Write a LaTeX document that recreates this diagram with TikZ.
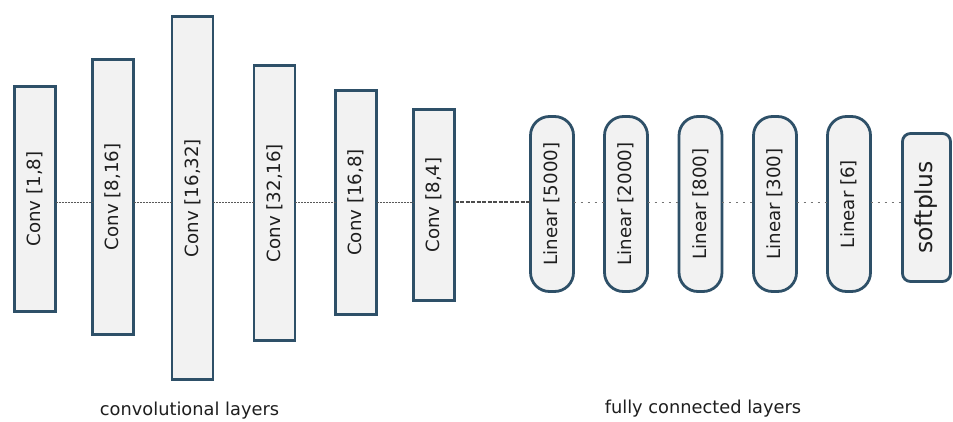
\documentclass[tikz,border=0pt]{standalone}
\usepackage{fontspec}
\setmainfont{DejaVu Sans}
\definecolor{boxline}{HTML}{2E5068}
\definecolor{boxfill}{HTML}{F2F2F2}
\definecolor{txt}{HTML}{1E1E1E}
\begin{document}
\begin{tikzpicture}[x=1pt,y=-1pt,
  layer/.style={draw=boxline, fill=boxfill, line width=2.8pt, inner sep=0pt, outer sep=0pt,
     text=txt, font=\fontsize{18.2}{20}\selectfont},
  convbox/.style={layer, rectangle, minimum width=41pt},
  linbox/.style={layer, rectangle, rounded corners=19pt, minimum width=43pt, minimum height=175pt},
  softbox/.style={layer, rectangle, rounded corners=8pt, minimum width=48pt, minimum height=148pt, font=\fontsize{23.5}{26}\selectfont},
  convconn/.style={draw=black!65, line width=0.8pt, dash pattern=on 2pt off 1pt},
  midconn/.style={draw=black!70, line width=1.2pt, dash pattern=on 4pt off 1.5pt},
  linconn/.style={draw=black!55, line width=1pt, dash pattern=on 2pt off 5pt},
  grouplabel/.style={text=txt, font=\fontsize{17.8}{20}\selectfont}
]
\useasboundingbox (0,0) rectangle (953,421);
\coordinate (mid) at (0,202);

\node[convbox, minimum height=225pt] (c1) at (35,199) {\rotatebox{90}{Conv [1,8]}};
\node[convbox, minimum height=275pt] (c2) at (113,197) {\rotatebox{90}{Conv [8,16]}};
\node[convbox, minimum height=363pt] (c3) at (192.5,198) {\rotatebox{90}{Conv [16,32]}};
\node[convbox, minimum height=275pt] (c4) at (274.5,203) {\rotatebox{90}{Conv [32,16]}};
\node[convbox, minimum height=224pt] (c5) at (356,202.5) {\rotatebox{90}{Conv [16,8]}};
\node[convbox, minimum height=191pt] (c6) at (434,205) {\rotatebox{90}{Conv [8,4]}};

\node[linbox] (l1) at (552,204) {\rotatebox{90}{Linear [5000]}};
\node[linbox] (l2) at (626,204) {\rotatebox{90}{Linear [2000]}};
\node[linbox] (l3) at (700.5,204) {\rotatebox{90}{Linear [800]}};
\node[linbox] (l4) at (775,204) {\rotatebox{90}{Linear [300]}};
\node[linbox] (l5) at (849,204) {\rotatebox{90}{Linear [6]}};
\node[softbox] (sp) at (926.5,207.5) {\rotatebox{90}{softplus}};

\draw[convconn] (c1.east |- mid) -- (c2.west |- mid);
\draw[convconn] (c2.east |- mid) -- (c3.west |- mid);
\draw[convconn] (c3.east |- mid) -- (c4.west |- mid);
\draw[convconn] (c4.east |- mid) -- (c5.west |- mid);
\draw[convconn] (c5.east |- mid) -- (c6.west |- mid);
\draw[midconn] (c6.east |- mid) -- (l1.west |- mid);
\draw[linconn] (l1.east |- mid) -- (l2.west |- mid);
\draw[linconn] (l2.east |- mid) -- (l3.west |- mid);
\draw[linconn] (l3.east |- mid) -- (l4.west |- mid);
\draw[linconn] (l4.east |- mid) -- (l5.west |- mid);
\draw[linconn] (l5.east |- mid) -- (sp.west |- mid);

\node[grouplabel] (gl1) at (189.5,411) {convolutional layers};
\node[grouplabel] (gl2) at (703,409) {fully connected layers};
\end{tikzpicture}
\end{document}
